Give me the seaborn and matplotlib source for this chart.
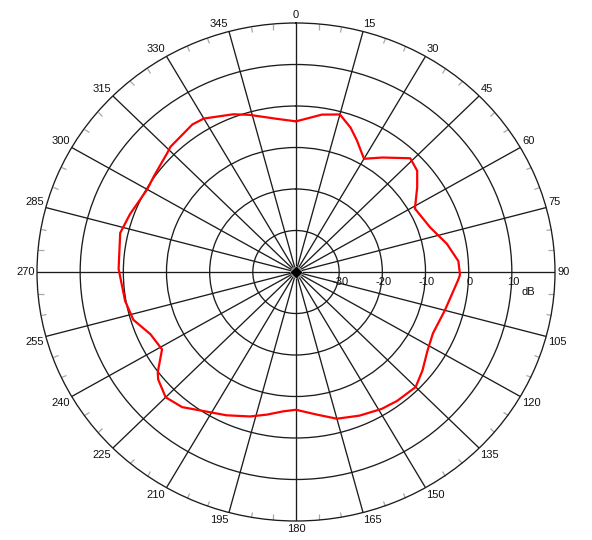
import numpy as np
import pandas as pd
import matplotlib
matplotlib.use("Agg")
import matplotlib.pyplot as plt
import seaborn as sns

# polar response (degrees clockwise from top, dB)
angles_deg = [0, 9, 15, 20, 24, 30, 36, 44, 49, 54, 61, 71, 79, 86, 91, 93,
              105, 115, 122, 129, 135, 143, 149, 157, 165, 172, 180, 185, 191,
              197, 205, 212, 219, 225, 231, 233, 239, 246, 253, 260, 271, 283,
              290, 300, 305, 314, 316, 326, 330, 339, 344, 353, 360]
level_db = [-3.7, -1.6, -0.7, -3.0, -5.3, -8.5, -5.9, -1.9, -2.8, -5.3, -8.5,
            -7.1, -4.4, -2.3, -2.0, -2.4, -4.3, -5.0, -4.1, -2.3, -0.8, -1.1,
            -1.5, -2.4, -3.4, -5.3, -6.8, -6.3, -5.0, -3.6, -1.9, -0.4, 1.9,
            2.7, 1.1, 0.1, -3.8, -3.1, -0.6, 0.2, 1.1, 1.8, 0.9, -0.2, 0.2,
            1.4, 1.9, 2.9, 2.7, 0.7, -0.6, -2.8, -3.7]

spoke_angles = list(range(0, 360, 15))
spoke_labels = [str(a) for a in spoke_angles]
ring_values = [-30, -20, -10, 0, 10]
ring_labels = ["-30", "-20", "-10", "0", "10"]
r_min, r_max = -40, 20

sns.set_style("white")
plt.rcParams["font.family"] = ["Liberation Sans", "DejaVu Sans"]

df = pd.DataFrame({"theta": np.deg2rad(angles_deg), "db": level_db})

fig = plt.figure(figsize=(5.92, 5.40), dpi=100)
ax = fig.add_axes([37 / 592, 19 / 540, 518 / 592, 498 / 540], projection="polar")
ax.set_theta_zero_location("N")
ax.set_theta_direction(-1)

sns.lineplot(data=df, x="theta", y="db", sort=False, estimator=None,
             color="#ff0000", linewidth=1.6, ax=ax, zorder=5)

ax.set_ylim(r_min, r_max)
ax.set_aspect("auto")
ax.set_xlabel("")
ax.set_ylabel("")

ax.set_xticks(np.deg2rad(spoke_angles))
ax.set_xticklabels([])
minor = [a for a in range(0, 360, 5) if a % 15 != 0]
ax.set_xticks(np.deg2rad(minor), minor=True)
ax.tick_params(axis="x", which="major", length=0)
ax.tick_params(axis="x", which="minor", direction="in", length=4,
               color="#a8a8a8", width=0.9, tick1On=True, tick2On=True)
ax.set_yticks(ring_values)
ax.set_yticklabels([])
ax.tick_params(axis="y", length=0)
ax.grid(True, color="#1c1c1c", linewidth=0.95)
ax.spines["polar"].set_color("#1c1c1c")
ax.spines["polar"].set_linewidth(0.95)

# small solid diamond where the spokes meet
ax.plot([0], [r_min], marker="D", markersize=5, color="black", zorder=4)

# angle labels just outside the outer ring
for ang, lbl in zip(spoke_angles, spoke_labels):
    s, c = np.sin(np.deg2rad(ang)), np.cos(np.deg2rad(ang))
    ha = "left" if s > 0.01 else ("right" if s < -0.01 else "center")
    va = "bottom" if c > 0.01 else ("top" if c < -0.01 else "center")
    ax.annotate(lbl, xy=(np.deg2rad(ang), r_max), xytext=(2 * s, 3 * c),
                textcoords="offset pixels", ha=ha, va=va, fontsize=8,
                color="#111111", annotation_clip=False)

# ring labels along the 90 degree spoke
for val, lbl in zip(ring_values, ring_labels):
    ax.annotate(lbl, xy=(np.pi / 2, val), xytext=(1, -10),
                textcoords="offset pixels", ha="center", va="center",
                fontsize=8, color="#111111")
ax.annotate("dB", xy=(np.pi / 2, 13.9), xytext=(0, -20),
            textcoords="offset pixels", ha="center", va="center",
            fontsize=8, color="#111111")

fig.savefig("out.png", dpi=100, facecolor="white")
